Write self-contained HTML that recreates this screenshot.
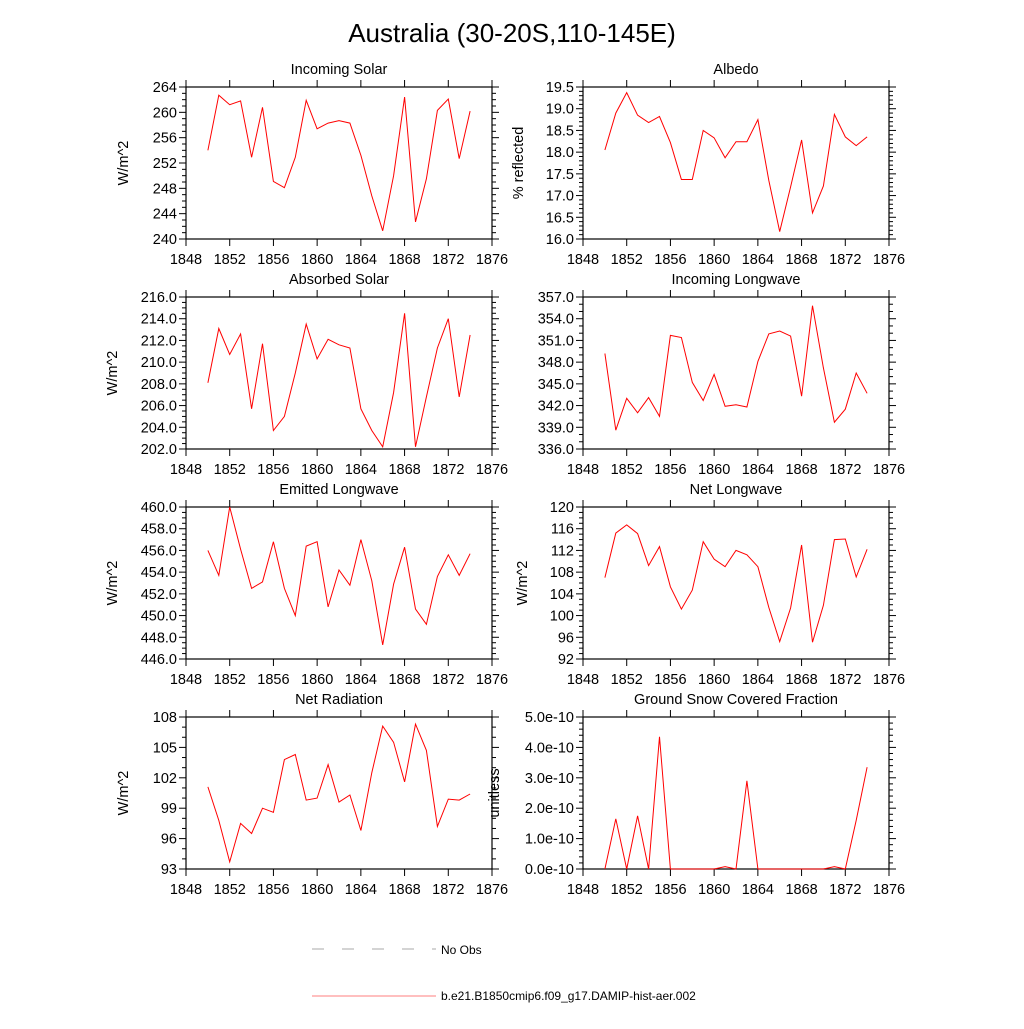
<!DOCTYPE html>
<html><head><meta charset="utf-8"><style>
body{margin:0;background:#fff;}
svg{font-family:"Liberation Sans",sans-serif;}
</style></head><body>
<svg id="c" width="1024" height="1024" xmlns="http://www.w3.org/2000/svg">
<text x="512" y="42" text-anchor="middle" font-size="26">Australia (30-20S,110-145E)</text>
<g>
<line x1="312" y1="949" x2="436" y2="949" stroke="#555" stroke-width="0.6" stroke-dasharray="12,18"/>
<text x="441" y="954" font-size="12">No Obs</text>
<line x1="312" y1="996" x2="436" y2="996" stroke="#f00" stroke-width="0.6"/>
<text x="441" y="1000" font-size="12">b.e21.B1850cmip6.f09_g17.DAMIP-hist-aer.002</text>
</g>
</svg>
<script>
const years=[1850,1851,1852,1853,1854,1855,1856,1857,1858,1859,1860,1861,1862,1863,1864,1865,1866,1867,1868,1869,1870,1871,1872,1873,1874];
const xTicks=[1848,1852,1856,1860,1864,1868,1872,1876];
const incomingSolar=[254,262.7,261.2,261.8,252.9,260.8,249.1,248.1,252.9,261.9,257.4,258.3,258.7,258.3,253.2,246.8,241.3,250,262.4,242.7,249.5,260.3,262.1,252.7,260.2];
const albedo=[18.05,18.9,19.37,18.85,18.68,18.82,18.22,17.37,17.37,18.5,18.33,17.87,18.24,18.24,18.75,17.35,16.17,17.2,18.28,16.6,17.22,18.87,18.35,18.15,18.35];
const absorbedSolar=[208.1,213.1,210.7,212.6,205.7,211.7,203.7,205,209,213.5,210.3,212.1,211.6,211.3,205.7,203.7,202.2,207.2,214.5,202.2,206.8,211.3,214,206.8,212.5];
const incomingLW=[349.2,338.6,343,341,343.1,340.5,351.7,351.4,345.2,342.7,346.3,341.9,342.1,341.8,348.1,351.9,352.3,351.6,343.3,355.8,347.2,339.7,341.5,346.5,343.7];
const emittedLW=[456,453.7,460,456.1,452.5,453.1,456.8,452.5,450,456.4,456.8,450.8,454.2,452.8,457,453.2,447.3,452.9,456.3,450.6,449.2,453.6,455.6,453.7,455.7];
const netLW=[107,115.2,116.7,115.1,109.2,112.7,105.3,101.2,104.7,113.6,110.4,109,112,111.2,109,101.5,95.2,101.4,113,95.1,101.9,114,114.1,107.1,112.2];
const netRad=[101.1,97.8,93.7,97.5,96.5,99,98.6,103.8,104.3,99.8,100,103.3,99.6,100.3,96.8,102.5,107.1,105.5,101.6,107.3,104.7,97.2,99.9,99.8,100.4];
const snow=[0,1.65,0,1.75,0,4.35,0,0,0,0,0,0.08,0,2.9,0,0,0,0,0,0,0,0.08,0,1.6,3.35];
const panels=[
 {t:"Incoming Solar",d:incomingSolar,lo:240,hi:264,st:4,mn:1,dec:0,yl:"W/m^2",col:0,row:0,lx:128},
 {t:"Albedo",d:albedo,lo:16,hi:19.5,st:0.5,mn:0.1,dec:1,yl:"% reflected",col:1,row:0,lx:523},
 {t:"Absorbed Solar",d:absorbedSolar,lo:202,hi:216,st:2,mn:0.5,dec:1,yl:"W/m^2",col:0,row:1,lx:117},
 {t:"Incoming Longwave",d:incomingLW,lo:336,hi:357,st:3,mn:1,dec:1,yl:"",col:1,row:1,lx:0},
 {t:"Emitted Longwave",d:emittedLW,lo:446,hi:460,st:2,mn:0.5,dec:1,yl:"W/m^2",col:0,row:2,lx:117},
 {t:"Net Longwave",d:netLW,lo:92,hi:120,st:4,mn:1,dec:0,yl:"W/m^2",col:1,row:2,lx:527},
 {t:"Net Radiation",d:netRad,lo:93,hi:108,st:3,mn:1,dec:0,yl:"W/m^2",col:0,row:3,lx:128},
 {t:"Ground Snow Covered Fraction",d:snow,lo:0,hi:5,st:1,mn:0.2,dec:-1,yl:"unitless",col:1,row:3,lx:499}
];
const svg=document.getElementById('c');const NS="http://www.w3.org/2000/svg";
function mk(tag,a,p){const e=document.createElementNS(NS,tag);for(const k in a)e.setAttribute(k,a[k]);(p||svg).appendChild(e);return e;}
panels.forEach((P,i)=>{
 const X0=P.col?583:186,X1=P.col?889:492,Y0=87+P.row*210,Y1=Y0+152;
 const g=mk('g',{});
 
 
 const xs=v=>X0+(v-1848)/28*(X1-X0);
 const ys=v=>Y1-(v-P.lo)/(P.hi-P.lo)*(Y1-Y0);
 const fr=mk('rect',{x:X0,y:Y0,width:X1-X0,height:Y1-Y0,fill:'none',stroke:'#000','stroke-width':1.2},g);
 
 
 xTicks.forEach(t=>{const x=xs(t);
  mk('line',{x1:x,y1:Y1,x2:x,y2:Y1+7,stroke:'#000'},g);mk('line',{x1:x,y1:Y0,x2:x,y2:Y0-7,stroke:'#000'},g);
  const tx=mk('text',{x:x,y:Y1+25,'text-anchor':'middle','font-size':14.5},g);tx.textContent=t;
  
  });
 const nm=Math.round((P.hi-P.lo)/P.mn);
 for(let k=0;k<=nm;k++){const v=P.lo+k*P.mn,y=ys(v);const maj=Math.abs((v-P.lo)/P.st-Math.round((v-P.lo)/P.st))<1e-6;const L=maj?7:4;
  mk('line',{x1:X0,y1:y,x2:X0-L,y2:y,stroke:'#000'},g);mk('line',{x1:X1,y1:y,x2:X1+L,y2:y,stroke:'#000'},g);
  if(maj){const tx=mk('text',{x:X0-9,y:y+5,'text-anchor':'end','font-size':14.5},g);
   tx.textContent=P.dec<0?v.toFixed(1)+'e-10':v.toFixed(P.dec);
   
   }}
 const tt=mk('text',{x:(X0+X1)/2,y:Y0-13,'text-anchor':'middle','font-size':14.5},g);tt.textContent=P.t;
 
 
 if(P.yl){const yl=mk('text',{x:P.lx,y:(Y0+Y1)/2,'text-anchor':'middle','font-size':14.5,transform:`rotate(-90 ${P.lx} ${(Y0+Y1)/2})`},g);yl.textContent=P.yl;
  
  }
 const pts=P.d.map((v,j)=>xs(years[j]).toFixed(1)+','+ys(v).toFixed(1)).join(' ');
 const pl=mk('polyline',{points:pts,fill:'none',stroke:'#f00','stroke-width':1},g);
 
 
});
</script>
</body></html>
